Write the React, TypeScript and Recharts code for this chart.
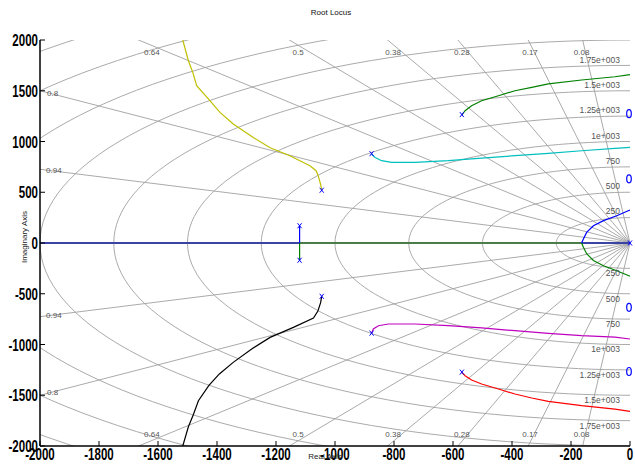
import React from "react";
import { ComposedChart, Line, Scatter, XAxis, YAxis, Label } from "recharts";

// ─── Root locus with s-plane grid ────────────────────────────────────────────

const X_TICKS = [-2000, -1800, -1600, -1400, -1200, -1000, -800, -600, -400, -200, 0];
const Y_TICKS = [-2000, -1500, -1000, -500, 0, 500, 1000, 1500, 2000];

// damping ratio lines and natural frequency circles of the grid
const ZETAS = [0.08, 0.17, 0.28, 0.38, 0.5, 0.64, 0.8, 0.94];
const WN = [250, 500, 750, 1000, 1250, 1500, 1750, 2000, 2250, 2500, 2750];

// open-loop poles (x) and zeros (o)
const poles = [
  { x: -1120, y: 170 }, { x: -1120, y: -170 },
  { x: -1045, y: 520 }, { x: -1045, y: -525 },
  { x: -876, y: 880 }, { x: -876, y: -888 },
  { x: -570, y: 1265 }, { x: -570, y: -1272 },
  { x: 0, y: 0 },
];
const zeros = [
  { x: 0, y: 632 }, { x: 0, y: -634 },
  { x: 0, y: 1274 }, { x: 0, y: -1266 },
];

// locus branches
const blueRealLeft = [{ x: -2000, y: 0 }, { x: -1120, y: 0 }];
const blueVertical = [{ x: -1120, y: 170 }, { x: -1120, y: 0 }];
const greenVertical = [{ x: -1120, y: -170 }, { x: -1120, y: 0 }];
const greenReal = [{ x: -1120, y: 0 }, { x: -164, y: 0 }];
const blueRealRight = [{ x: -164, y: 0 }, { x: 0, y: 0 }];

const blueUp = [
  { x: -164, y: 0 }, { x: -158, y: 39 }, { x: -147, y: 104 }, { x: -124, y: 170 },
  { x: -90, y: 220 }, { x: -45, y: 269 }, { x: -6, y: 318 }, { x: 0, y: 325 },
];
const greenDown = [
  { x: -164, y: 0 }, { x: -158, y: -42 }, { x: -147, y: -106 }, { x: -124, y: -172 },
  { x: -90, y: -224 }, { x: -45, y: -274 }, { x: -6, y: -320 }, { x: 0, y: -327 },
];

const yellow = [
  { x: -1045, y: 520 }, { x: -1049, y: 581 }, { x: -1057, y: 663 }, { x: -1064, y: 712 },
  { x: -1085, y: 761 }, { x: -1153, y: 860 }, { x: -1220, y: 939 }, { x: -1277, y: 1040 },
  { x: -1345, y: 1172 }, { x: -1390, y: 1287 }, { x: -1424, y: 1402 }, { x: -1469, y: 1550 },
  { x: -1482, y: 1681 }, { x: -1497, y: 1796 }, { x: -1516, y: 2000 },
];
const black = [
  { x: -1045, y: -525 }, { x: -1049, y: -590 }, { x: -1058, y: -670 }, { x: -1073, y: -739 },
  { x: -1141, y: -831 }, { x: -1220, y: -930 }, { x: -1280, y: -1040 }, { x: -1345, y: -1176 },
  { x: -1392, y: -1290 }, { x: -1428, y: -1405 }, { x: -1463, y: -1554 }, { x: -1480, y: -1690 },
  { x: -1497, y: -1810 }, { x: -1516, y: -2000 },
];
const cyan = [
  { x: -876, y: 877 }, { x: -864, y: 843 }, { x: -842, y: 811 }, { x: -808, y: 794 },
  { x: -729, y: 794 }, { x: -616, y: 811 }, { x: -503, y: 837 }, { x: -390, y: 860 },
  { x: -277, y: 883 }, { x: -164, y: 909 }, { x: -51, y: 932 }, { x: 0, y: 942 },
];
const magenta = [
  { x: -876, y: -890 }, { x: -870, y: -847 }, { x: -853, y: -815 }, { x: -819, y: -798 },
  { x: -729, y: -798 }, { x: -616, y: -815 }, { x: -503, y: -837 }, { x: -390, y: -864 },
  { x: -277, y: -890 }, { x: -164, y: -913 }, { x: -51, y: -928 }, { x: 0, y: -946 },
];
const green = [
  { x: -570, y: 1261 }, { x: -559, y: 1303 }, { x: -537, y: 1353 }, { x: -503, y: 1402 },
  { x: -446, y: 1451 }, { x: -390, y: 1500 }, { x: -333, y: 1533 }, { x: -277, y: 1567 },
  { x: -164, y: 1606 }, { x: -51, y: 1638 }, { x: 0, y: 1658 },
];
const red = [
  { x: -570, y: -1275 }, { x: -559, y: -1307 }, { x: -537, y: -1350 }, { x: -503, y: -1389 },
  { x: -446, y: -1438 }, { x: -390, y: -1488 }, { x: -333, y: -1527 }, { x: -277, y: -1561 },
  { x: -164, y: -1603 }, { x: -51, y: -1636 }, { x: 0, y: -1659 },
];

// grid labels
const zetaLabels = [
  { x: -1621, y: 1882, t: "0.64" }, { x: -1125, y: 1882, t: "0.5" },
  { x: -803, y: 1882, t: "0.38" }, { x: -570, y: 1882, t: "0.28" },
  { x: -339, y: 1882, t: "0.17" }, { x: -164, y: 1882, t: "0.08" },
  { x: -1957, y: 1478, t: "0.8" }, { x: -1953, y: 719, t: "0.94" },
  { x: -1621, y: -1877, t: "0.64" }, { x: -1125, y: -1877, t: "0.5" },
  { x: -803, y: -1877, t: "0.38" }, { x: -570, y: -1877, t: "0.28" },
  { x: -339, y: -1877, t: "0.17" }, { x: -164, y: -1877, t: "0.08" },
  { x: -1957, y: -1468, t: "0.8" }, { x: -1953, y: -709, t: "0.94" },
];
const wnLabels = [
  { x: -34, y: 1803, t: "1.75e+003" }, { x: -34, y: 1557, t: "1.5e+003" },
  { x: -34, y: 1310, t: "1.25e+003" }, { x: -34, y: 1054, t: "1e+003" },
  { x: -34, y: 808, t: "750" }, { x: -34, y: 562, t: "500" }, { x: -34, y: 315, t: "250" },
  { x: -34, y: -296, t: "250" }, { x: -34, y: -552, t: "500" }, { x: -34, y: -798, t: "750" },
  { x: -34, y: -1044, t: "1e+003" }, { x: -34, y: -1300, t: "1.25e+003" },
  { x: -34, y: -1547, t: "1.5e+003" }, { x: -34, y: -1803, t: "1.75e+003" },
];

// grid geometry (clipped to the plot by allowDataOverflow)
const zetaLines = ZETAS.flatMap((z) => {
  const s = Math.sqrt(1 - z * z);
  return [
    [{ x: 0, y: 0 }, { x: -4000 * z, y: 4000 * s }],
    [{ x: 0, y: 0 }, { x: -4000 * z, y: -4000 * s }],
  ];
});
const circles = WN.map((r) => {
  const pts = [];
  for (let a = 90; a <= 270; a += 2) {
    const t = (a * Math.PI) / 180;
    pts.push({ x: r * Math.cos(t), y: r * Math.sin(t) });
  }
  return pts;
});
const realAxisGrid = [{ x: -2000, y: 0 }, { x: 0, y: 0 }];

const GRID = "#a0a0a0";
const BOLD_FONT = "'Liberation Sans', Arial, sans-serif";
const SMALL_FONT = "'Liberation Sans', Arial, sans-serif";

// condensed bold tick labels, like the squeezed MATLAB export
const XTick = (p: any) => (
  <text transform={`translate(${p.x},${p.y + 12}) scale(0.72,1)`} textAnchor="middle"
    fontSize={16} fontWeight={700} fill="#000" fontFamily={BOLD_FONT}>
    {p.payload.value}
  </text>
);
const YTick = (p: any) => (
  <text transform={`translate(${p.x},${p.y + 6}) scale(0.72,1)`} textAnchor="end"
    fontSize={16} fontWeight={700} fill="#000" fontFamily={BOLD_FONT}>
    {p.payload.value}
  </text>
);

const PoleMark = (p: any) => {
  const { cx, cy } = p;
  return (
    <g stroke="#0000ff" strokeWidth={1}>
      <line x1={cx - 2} y1={cy - 2.5} x2={cx + 2} y2={cy + 2.5} />
      <line x1={cx - 2} y1={cy + 2.5} x2={cx + 2} y2={cy - 2.5} />
    </g>
  );
};
const ZeroMark = (p: any) => (
  <ellipse cx={p.cx - 1} cy={p.cy} rx={2.3} ry={4} fill="none" stroke="#0000ff" strokeWidth={1.2} />
);
const ZetaText = (p: any) => (
  <text x={p.cx} y={p.cy} dy={3} textAnchor="middle" fontSize={8} fill="#555" fontFamily={SMALL_FONT}>
    {p.payload.t}
  </text>
);
const WnText = (p: any) => (
  <text x={p.cx} y={p.cy} dy={3} textAnchor="end" fontSize={8.5} fill="#555" fontFamily={SMALL_FONT}>
    {p.payload.t}
  </text>
);

const branch = (data: { x: number; y: number }[], color: string, key: string, w = 1.2) => (
  <Line key={key} data={data} dataKey="y" type="linear" stroke={color} strokeWidth={w}
    dot={false} activeDot={false} isAnimationActive={false} />
);

export default function App() {
  return (
    <div style={{ position: "absolute", left: 0, top: 0, width: 635, height: 468, background: "#fff" }}>
      <div style={{
        position: "absolute", top: 8, left: 0, width: 662, textAlign: "center",
        fontSize: 8, fontFamily: SMALL_FONT, color: "#111",
      }}>
        Root Locus
      </div>
      <ComposedChart width={635} height={468} margin={{ top: 40, right: 5, bottom: 0, left: 0 }}>
        <XAxis dataKey="x" type="number" domain={[-2000, 0]} ticks={X_TICKS} allowDataOverflow
          height={22} tickSize={-5} tickMargin={7} interval={0}
          tick={XTick} axisLine={{ stroke: "#000", strokeWidth: 1.5 }} tickLine={{ stroke: "#000" }}>
          <Label value="Real Axis" position="center" dx={-10} dy={-1} fontSize={8} fill="#222" fontFamily={SMALL_FONT} />
        </XAxis>
        <XAxis xAxisId="top" dataKey="x" type="number" orientation="top" domain={[-2000, 0]} ticks={X_TICKS}
          allowDataOverflow height={0} tickSize={-5} tick={false}
          axisLine={{ stroke: "#000", strokeWidth: 1.5 }} tickLine={{ stroke: "#000" }} />
        <XAxis xAxisId="m" dataKey="x" type="number" domain={[-2000, 0]} hide />
        <YAxis type="number" domain={[-2000, 2000]} ticks={Y_TICKS} allowDataOverflow
          width={40} tickSize={-5} tickMargin={7} interval={0}
          tick={YTick} axisLine={{ stroke: "#000", strokeWidth: 1.5 }} tickLine={{ stroke: "#000" }}>
          <Label value="Imaginary Axis" angle={-90} position="center" dx={4} dy={-6}
            fontSize={8} fill="#222" fontFamily={SMALL_FONT} />
        </YAxis>
        <YAxis yAxisId="right" type="number" orientation="right" domain={[-2000, 2000]} ticks={Y_TICKS}
          allowDataOverflow width={0} tickSize={-5} tick={false}
          axisLine={{ stroke: "#000", strokeWidth: 1.5 }} tickLine={{ stroke: "#000" }} />
        <YAxis yAxisId="m" type="number" domain={[-2000, 2000]} hide />

        {circles.map((c, i) => branch(c, GRID, "c" + i, 0.9))}
        {zetaLines.map((l, i) => branch(l, GRID, "z" + i, 0.9))}
        {branch(realAxisGrid, GRID, "ra", 0.9)}

        {branch(blueRealLeft, "#3a44a6", "brl", 2)}
        {branch(greenReal, "#4a7d4a", "gr", 2)}
        {branch(blueRealRight, "#3a44a6", "brr", 2)}
        {branch(blueVertical, "#0000ff", "bv")}
        {branch(greenVertical, "#008000", "gv")}
        {branch(blueUp, "#0000ff", "bu")}
        {branch(greenDown, "#008000", "gd")}
        {branch(yellow, "#bfbf00", "y")}
        {branch(black, "#000000", "k")}
        {branch(cyan, "#00bfbf", "cy")}
        {branch(magenta, "#bf00bf", "mg")}
        {branch(green, "#008000", "g")}
        {branch(red, "#ff0000", "r")}

        <Scatter xAxisId="m" yAxisId="m" data={zetaLabels} dataKey="y" shape={ZetaText} isAnimationActive={false} />
        <Scatter xAxisId="m" yAxisId="m" data={wnLabels} dataKey="y" shape={WnText} isAnimationActive={false} />
        <Scatter xAxisId="m" yAxisId="m" data={poles} dataKey="y" shape={PoleMark} isAnimationActive={false} />
        <Scatter xAxisId="m" yAxisId="m" data={zeros} dataKey="y" shape={ZeroMark} isAnimationActive={false} />
      </ComposedChart>
    </div>
  );
}
